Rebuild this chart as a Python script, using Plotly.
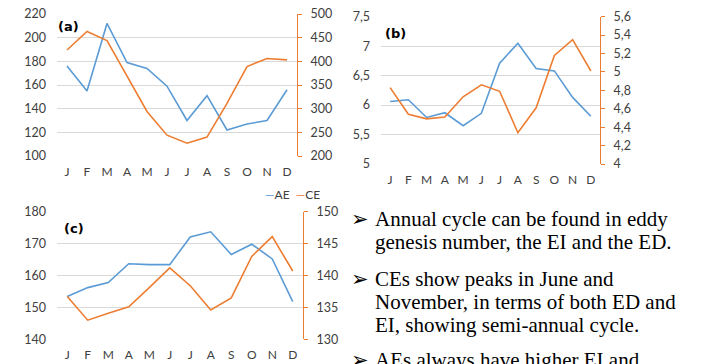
import plotly.graph_objects as go

W, H = 702, 364

months = ["J", "F", "M", "A", "M", "J", "J", "A", "S", "O", "N", "D"]
xpos = list(range(12))

# Panel (a)
ae_a = [176, 155, 212, 179, 174, 159, 130, 151, 122, 127, 130, 156]
ce_a = [424, 463, 444, 369, 294, 244, 227, 240, 311, 389, 406, 403]
# Panel (b)
ae_b = [6.06, 6.09, 5.79, 5.87, 5.65, 5.86, 6.71, 7.05, 6.62, 6.58, 6.13, 5.81]
ce_b = [4.83, 4.54, 4.49, 4.51, 4.73, 4.86, 4.79, 4.34, 4.61, 5.18, 5.35, 5.01]
# Panel (c)
ae_c = [153.4, 156.2, 157.8, 163.7, 163.4, 163.4, 172.1, 173.7, 166.6, 169.8, 165.2, 151.8]
ce_c = [136.7, 133.0, 134.1, 135.1, 138.1, 141.2, 138.4, 134.6, 136.5, 143.0, 146.1, 140.7]

bullets = [
    ("➢", "Annual cycle can be found in eddy"),
    ("", "genesis number, the EI and the ED."),
    ("➢", "CEs show peaks in June and"),
    ("", "November, in terms of both ED and"),
    ("", "EI, showing semi-annual cycle."),
    ("➢", "AEs always have higher EI and"),
]

BLUE = "#5B9BD5"
ORANGE = "#ED7D31"
GRID = "#D9D9D9"
TXT = "#404040"
FONT = "Lato"


def px(x):
    return x / W


def py(y):
    return 1 - y / H


fig = go.Figure()

panels = [
    ("x", "y", "y2", 57, 297, 14, 156, ae_a, ce_a, [100, 220], 20, [200, 500], 50, "(a)", (56, 27)),
    ("x2", "y3", "y4", 381, 600, 16.7, 164, ae_b, ce_b, [5, 7.5], 0.5, [4, 5.6], 0.2, "(b)", (383, 33)),
    ("x3", "y5", "y6", 57, 303, 211.7, 339.3, ae_c, ce_c, [140, 180], 10, [130, 150], 5, "(c)", (62, 228)),
]

for i, (xa, yl, yr, x0, x1, y0, y1, ae, ce, lr, ld, rr, rd, lab, lpos) in enumerate(panels):
    fig.add_trace(go.Scatter(x=xpos, y=ae, mode="lines", name="AE",
                             line=dict(color=BLUE, width=1.6), xaxis=xa, yaxis=yl,
                             showlegend=False))
    fig.add_trace(go.Scatter(x=xpos, y=ce, mode="lines", name="CE",
                             line=dict(color=ORANGE, width=1.6), xaxis=xa, yaxis=yr,
                             showlegend=False))
    xkey = "xaxis" + xa[1:]
    ylkey = "yaxis" + yl[1:]
    yrkey = "yaxis" + yr[1:]
    fig.layout[xkey] = dict(
        domain=[px(x0), px(x1)], anchor=yl, range=[-0.5, 11.5],
        tickmode="array", tickvals=xpos, ticktext=months,
        showgrid=False, zeroline=False, showline=False, ticks="",
        tickfont=dict(family=FONT, size=12, color=TXT), ticklabelstandoff=7,
        fixedrange=True, automargin=False,
    )
    fig.layout[ylkey] = dict(
        domain=[py(y1), py(y0)], anchor=xa, range=lr, dtick=ld, tick0=lr[0],
        showgrid=True, gridcolor=GRID, gridwidth=1, zeroline=False, showline=False,
        ticks="", tickfont=dict(family=FONT, size=12.5, color=TXT), ticklabelstandoff=10,
        automargin=False,
    )
    fig.layout[yrkey] = dict(
        overlaying=yl, side="right", anchor=xa, range=rr, dtick=rd, tick0=rr[0],
        showgrid=False, zeroline=False, showline=True, linecolor=ORANGE, linewidth=1.2,
        ticks="outside", ticklen=4, tickcolor=ORANGE, tickwidth=1,
        tickfont=dict(family=FONT, size=12.5, color=TXT), ticklabelstandoff=6,
        automargin=False,
    )
    fig.add_annotation(x=px(lpos[0]), y=py(lpos[1]), xref="paper", yref="paper",
                       xanchor="left", yanchor="middle", showarrow=False,
                       text="<b>" + lab + "</b>",
                       font=dict(family="DejaVu Sans", size=13, color="#000000"))

# legend of panel (a)
fig.add_annotation(x=px(263), y=py(194), xref="paper", yref="paper",
                   xanchor="left", yanchor="middle", showarrow=False,
                   text=f"<span style='color:{BLUE}'>—</span>AE  <span style='color:{ORANGE}'>—</span>CE",
                   font=dict(family=FONT, size=12, color=TXT))

# bullet text
line_y = [219, 242, 279, 302, 325, 360]
for (b, t), yy in zip(bullets, line_y):
    if b:
        fig.add_annotation(x=px(349), y=py(yy), xref="paper", yref="paper",
                           xanchor="left", yanchor="middle", showarrow=False,
                           text=b, font=dict(family="DejaVu Sans", size=21, color="black"))
    fig.add_annotation(x=px(373), y=py(yy), xref="paper", yref="paper",
                       xanchor="left", yanchor="middle", showarrow=False,
                       text=t, font=dict(family="Liberation Serif", size=21, color="black"))

fig.update_layout(
    width=W, height=H, autosize=False,
    margin=dict(l=0, r=0, t=0, b=0),
    paper_bgcolor="white", plot_bgcolor="white",
    separators=",.",
    showlegend=False,
)

fig.write_html(
    "out.html",
    config={"displayModeBar": False},
    post_script="document.body.style.margin='0';document.body.style.overflow='hidden';",
)
